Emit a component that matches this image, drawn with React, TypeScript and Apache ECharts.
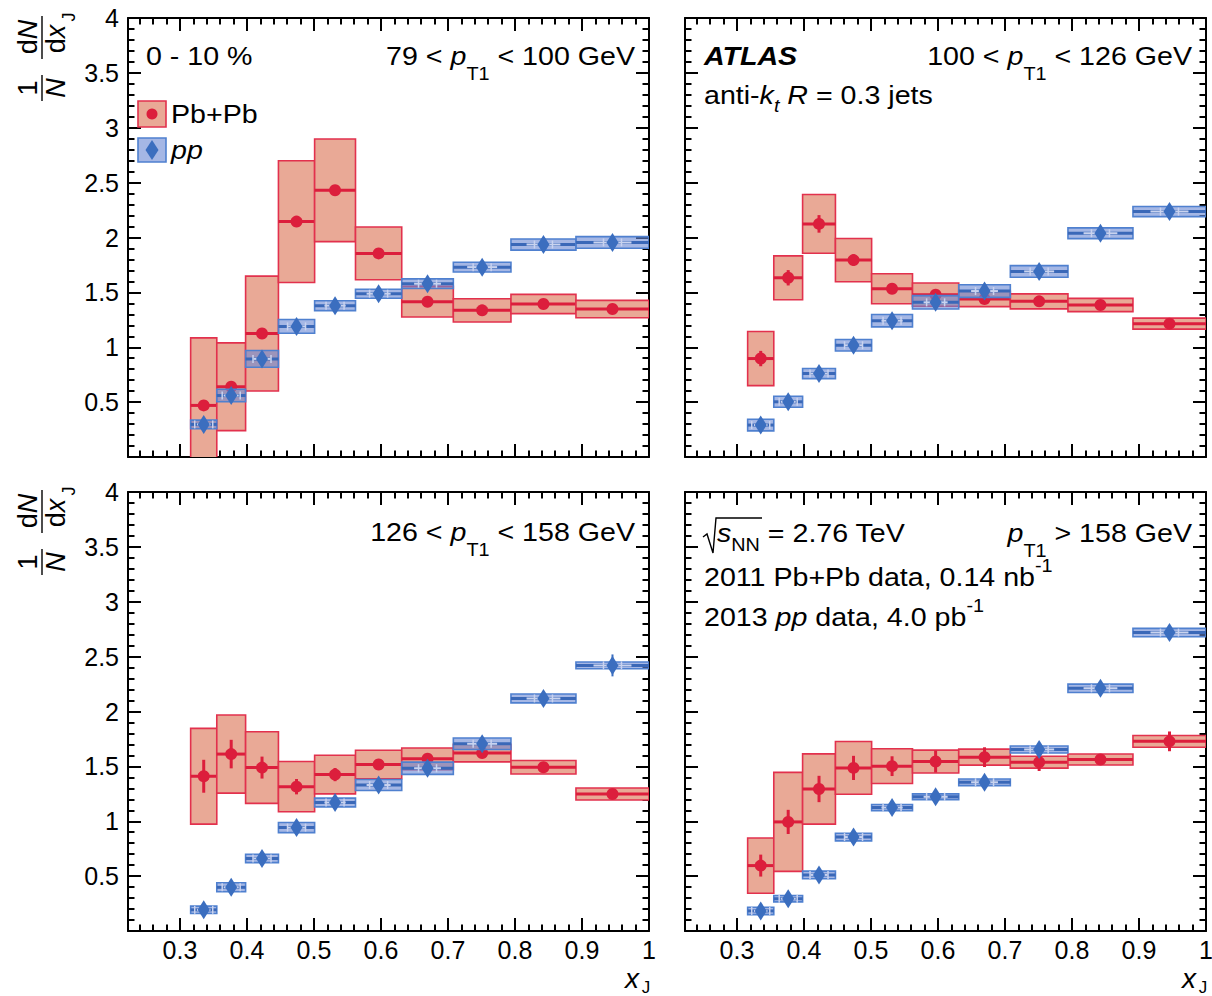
import React, { useEffect, useRef } from 'react';
import * as echarts from 'echarts';

// ---------- axis ranges / ticks ----------
const X_MIN = 0.2225;
const X_MAX = 1.0;
const Y_MIN = 0;
const Y_MAX = 4;
const xEdges = [0.316, 0.355, 0.398, 0.447, 0.501, 0.562, 0.631, 0.708, 0.794, 0.891, 1.0];
const xMajorTicks = [0.3, 0.4, 0.5, 0.6, 0.7, 0.8, 0.9, 1];
const xMinorTicks = [
  0.24, 0.26, 0.28, 0.32, 0.34, 0.36, 0.38, 0.42, 0.44, 0.46, 0.48, 0.52, 0.54, 0.56, 0.58,
  0.62, 0.64, 0.66, 0.68, 0.72, 0.74, 0.76, 0.78, 0.82, 0.84, 0.86, 0.88, 0.92, 0.94, 0.96, 0.98,
];

// ---------- panel A: 79 < pT1 < 100 GeV ----------
const pbpbA = [0.47, 0.64, 1.125, 2.145, 2.43, 1.855, 1.415, 1.336, 1.394, 1.348];
const pbpbSysA = [0.615, 0.4, 0.523, 0.555, 0.468, 0.24, 0.14, 0.106, 0.088, 0.079];
const pbpbStatA = [0.03, 0.03, 0.03, 0.03, 0.03, 0.02, 0.02, 0.02, 0.02, 0.02];
const ppA = [0.297, 0.56, 0.894, 1.19, 1.379, 1.488, 1.579, 1.73, 1.936, 1.955];
const ppSysA = [0.039, 0.057, 0.076, 0.063, 0.045, 0.041, 0.044, 0.045, 0.051, 0.053];
const ppStatA = [0.03, 0.03, 0.03, 0.03, 0.02, 0.02, 0.02, 0.02, 0.02, 0.02];

// ---------- panel B: 100 < pT1 < 126 GeV ----------
const pbpbB = [0.897, 1.633, 2.124, 1.794, 1.533, 1.479, 1.44, 1.418, 1.385, 1.215];
const pbpbSysB = [0.247, 0.2, 0.268, 0.197, 0.137, 0.106, 0.07, 0.068, 0.06, 0.05];
const pbpbStatB = [0.07, 0.07, 0.08, 0.05, 0.03, 0.03, 0.02, 0.02, 0.02, 0.02];
const ppB = [0.291, 0.503, 0.76, 1.018, 1.242, 1.409, 1.512, 1.691, 2.039, 2.236];
const ppSysB = [0.053, 0.05, 0.046, 0.052, 0.056, 0.061, 0.058, 0.053, 0.049, 0.046];
const ppStatB = [0.03, 0.03, 0.03, 0.03, 0.02, 0.02, 0.02, 0.02, 0.02, 0.02];

// ---------- panel C: 126 < pT1 < 158 GeV ----------
const pbpbC = [1.41, 1.612, 1.489, 1.315, 1.425, 1.517, 1.569, 1.621, 1.492, 1.248];
const pbpbSysC = [0.436, 0.356, 0.326, 0.229, 0.176, 0.13, 0.099, 0.08, 0.061, 0.055];
const pbpbStatC = [0.15, 0.13, 0.1, 0.07, 0.06, 0.05, 0.04, 0.03, 0.03, 0.02];
const ppC = [0.193, 0.398, 0.661, 0.942, 1.171, 1.33, 1.483, 1.706, 2.119, 2.42];
const ppSysC = [0.034, 0.041, 0.038, 0.046, 0.04, 0.05, 0.056, 0.052, 0.04, 0.031];
const ppStatC = [0.02, 0.02, 0.02, 0.02, 0.02, 0.02, 0.03, 0.03, 0.03, 0.1];

// ---------- panel D: pT1 > 158 GeV ----------
const pbpbD = [0.596, 0.994, 1.294, 1.486, 1.502, 1.544, 1.584, 1.538, 1.563, 1.728];
const pbpbSysD = [0.252, 0.451, 0.32, 0.24, 0.158, 0.104, 0.073, 0.054, 0.05, 0.054];
const pbpbStatD = [0.1, 0.11, 0.12, 0.11, 0.09, 0.1, 0.09, 0.08, 0.05, 0.09];
const ppD = [0.183, 0.294, 0.511, 0.856, 1.125, 1.223, 1.355, 1.654, 2.211, 2.719];
const ppSysD = [0.034, 0.029, 0.035, 0.035, 0.028, 0.026, 0.03, 0.032, 0.038, 0.038];
const ppStatD = [0.02, 0.02, 0.02, 0.02, 0.02, 0.02, 0.02, 0.02, 0.02, 0.03];

// ---------- style ----------
const FONT = "'Liberation Sans', Arial, Helvetica, sans-serif";
const RED = '#dc1e3c';
const RED_EDGE = '#e2314d';
const RED_FILL = '#e9a996';
const BLUE = '#3b6ebf';
const BLUE_DARK = '#3a68b8';
const BLUE_EDGE = '#4f80cf';
const BLUE_FILL = 'rgba(105,135,212,0.6)';
const BLUE_LIGHT = '#c9d3ef';
const SX = 1.1;
const FS = 26;

const GRIDS = [
  { left: 128, top: 18, width: 521, height: 439 },
  { left: 685, top: 18, width: 521, height: 439 },
  { left: 128, top: 492, width: 521, height: 439 },
  { left: 685, top: 492, width: 521, height: 439 },
];

const panels = [
  { pb: pbpbA, pbSys: pbpbSysA, pbStat: pbpbStatA, pp: ppA, ppSys: ppSysA, ppStat: ppStatA },
  { pb: pbpbB, pbSys: pbpbSysB, pbStat: pbpbStatB, pp: ppB, ppSys: ppSysB, ppStat: ppStatB },
  { pb: pbpbC, pbSys: pbpbSysC, pbStat: pbpbStatC, pp: ppC, ppSys: ppSysC, ppStat: ppStatC },
  { pb: pbpbD, pbSys: pbpbSysD, pbStat: pbpbStatD, pp: ppD, ppSys: ppSysD, ppStat: ppStatD },
];

const redItem = (_p: any, api: any) => {
  const lo = api.value(0), hi = api.value(1), v = api.value(2), s = api.value(3), st = api.value(4);
  const a = api.coord([lo, v + s]);
  const b = api.coord([hi, v - s]);
  const c = api.coord([lo, v]);
  const d = api.coord([hi, v]);
  const cx = (c[0] + d[0]) / 2;
  const e1 = api.coord([lo, v + st])[1];
  const e2 = api.coord([lo, v - st])[1];
  return {
    type: 'group',
    children: [
      { type: 'rect', shape: { x: a[0], y: a[1], width: b[0] - a[0], height: b[1] - a[1] }, style: { fill: RED_FILL, stroke: RED_EDGE, lineWidth: 1.6 } },
      { type: 'line', shape: { x1: c[0], y1: c[1], x2: d[0], y2: d[1] }, style: { stroke: RED, lineWidth: 3 } },
      { type: 'line', shape: { x1: cx, y1: e1, x2: cx, y2: e2 }, style: { stroke: RED, lineWidth: 3 } },
    ],
  };
};

const blueItem = (_p: any, api: any) => {
  const lo = api.value(0), hi = api.value(1), v = api.value(2), s = api.value(3), st = api.value(4);
  const a = api.coord([lo, v + s]);
  const b = api.coord([hi, v - s]);
  const c = api.coord([lo, v]);
  const d = api.coord([hi, v]);
  const w = d[0] - c[0];
  const cx = (c[0] + d[0]) / 2;
  const e1 = api.coord([lo, v + st])[1];
  const e2 = api.coord([lo, v - st])[1];
  return {
    type: 'group',
    children: [
      { type: 'rect', shape: { x: a[0], y: a[1], width: b[0] - a[0], height: b[1] - a[1] }, style: { fill: BLUE_FILL, stroke: BLUE_EDGE, lineWidth: 1.6 } },
      { type: 'line', shape: { x1: c[0], y1: c[1], x2: d[0], y2: d[1] }, style: { stroke: BLUE_DARK, lineWidth: 3 } },
      { type: 'line', shape: { x1: cx - w * 0.26, y1: c[1], x2: cx + w * 0.26, y2: c[1] }, style: { stroke: BLUE_LIGHT, lineWidth: 2 } },
      { type: 'line', shape: { x1: cx - 9, y1: c[1] - 4, x2: cx - 9, y2: c[1] + 4 }, style: { stroke: BLUE_LIGHT, lineWidth: 1.5 } },
      { type: 'line', shape: { x1: cx + 9, y1: c[1] - 4, x2: cx + 9, y2: c[1] + 4 }, style: { stroke: BLUE_LIGHT, lineWidth: 1.5 } },
      { type: 'line', shape: { x1: cx, y1: e1, x2: cx, y2: e2 }, style: { stroke: BLUE, lineWidth: 2 } },
    ],
  };
};

const RICH: any = {
  n: { fontSize: FS, fontFamily: FONT, fill: '#000' },
  i: { fontSize: FS, fontFamily: FONT, fontStyle: 'italic', fill: '#000' },
  b: { fontSize: FS, fontFamily: FONT, fontStyle: 'italic', fontWeight: 'bold', fill: '#000' },
  s: { fontSize: 18, fontFamily: FONT, fill: '#000', padding: [36, 0, 0, 0] },
  s2: { fontSize: 18, fontFamily: FONT, fill: '#000', padding: [24, 0, 0, 0] },
  st: { fontSize: 18, fontFamily: FONT, fontStyle: 'italic', fill: '#000', padding: [22, 0, 0, 0] },
  sup: { fontSize: 18, fontFamily: FONT, fill: '#000', padding: [0, 0, 22, 0] },
  tn: { fontSize: 27, fontFamily: FONT, fill: '#000' },
  ti: { fontSize: 27, fontFamily: FONT, fontStyle: 'italic', fill: '#000' },
};

const label = (x: number, y: number, text: string, align: string, scale = SX) => ({
  type: 'text',
  x,
  y,
  scaleX: scale,
  z: 100,
  style: { text, rich: RICH, align, verticalAlign: 'middle', fill: '#000', fontSize: FS, fontFamily: FONT },
});

const rotText = (x: number, y: number, text: string, size = 27, italic = false) => ({
  type: 'text',
  x,
  y,
  rotation: Math.PI / 2,
  z: 100,
  style: { text, rich: RICH, align: 'center', verticalAlign: 'middle', fill: '#000', fontSize: size, fontFamily: FONT, fontStyle: italic ? 'italic' : 'normal' },
});

const yTitle = (dy: number) => [
  rotText(28, 88 + dy, '1'),
  rotText(56, 88 + dy, 'N', 27, true),
  { type: 'line', z: 100, shape: { x1: 42, y1: 75 + dy, x2: 42, y2: 101 + dy }, style: { stroke: '#000', lineWidth: 1.4 } },
  rotText(28, 37 + dy, '{tn|d}{ti|N}'),
  rotText(56, 39 + dy, '{tn|d}{ti|x}'),
  rotText(69, 17 + dy, 'J', 18),
  { type: 'line', z: 100, shape: { x1: 42, y1: 16 + dy, x2: 42, y2: 59 + dy }, style: { stroke: '#000', lineWidth: 1.4 } },
];

const xTitle = (x: number, y: number) => [
  { type: 'text', x, y, z: 100, style: { text: 'x', align: 'center', verticalAlign: 'middle', fill: '#000', fontSize: 28, fontStyle: 'italic', fontFamily: FONT } },
  { type: 'text', x: x + 14, y: y + 9, z: 100, style: { text: 'J', align: 'center', verticalAlign: 'middle', fill: '#000', fontSize: 17, fontFamily: FONT } },
];

function buildOption() {
  const tickLine = { color: '#000', width: 2 };
  const xAxis: any[] = [];
  const yAxis: any[] = [];
  const series: any[] = [];
  GRIDS.forEach((_g, i) => {
    const bottomRow = i >= 2;
    const leftCol = i % 2 === 0;
    const base = { type: 'value', gridIndex: i, min: X_MIN, max: X_MAX, splitLine: { show: false } };
    const line = { show: true, onZero: false, lineStyle: { color: '#000', width: 2 } };
    const noLine = { show: false, onZero: false };
    const majorTick = { show: true, inside: true, length: 13, customValues: xMajorTicks, lineStyle: tickLine };
    const minorTick = { show: true, inside: true, length: 6.5, customValues: xMinorTicks, lineStyle: tickLine };
    xAxis.push({
      ...base,
      position: 'bottom',
      axisLine: line,
      axisTick: majorTick,
      axisLabel: { show: bottomRow, customValues: xMajorTicks, color: '#000', fontSize: 25, fontFamily: FONT, margin: 6 },
    });
    xAxis.push({ ...base, position: 'bottom', axisLine: noLine, axisTick: minorTick, axisLabel: { show: false } });
    xAxis.push({ ...base, position: 'top', axisLine: line, axisTick: majorTick, axisLabel: { show: false } });
    xAxis.push({ ...base, position: 'top', axisLine: noLine, axisTick: minorTick, axisLabel: { show: false } });

    const ybase = {
      type: 'value',
      gridIndex: i,
      min: Y_MIN,
      max: Y_MAX,
      interval: 0.5,
      splitLine: { show: false },
      axisLine: line,
      axisTick: { show: true, inside: true, length: 13, lineStyle: tickLine },
      minorTick: { show: true, splitNumber: 5, length: 6.5, lineStyle: tickLine },
    };
    yAxis.push({
      ...ybase,
      position: 'left',
      axisLabel: { show: leftCol, showMinLabel: false, color: '#000', fontSize: 25, fontFamily: FONT, margin: 9 },
    });
    yAxis.push({ ...ybase, position: 'right', axisLabel: { show: false } });

    const p = panels[i];
    const redData = p.pb.map((v, k) => [xEdges[k], xEdges[k + 1], v, p.pbSys[k], p.pbStat[k]]);
    const blueData = p.pp.map((v, k) => [xEdges[k], xEdges[k + 1], v, p.ppSys[k], p.ppStat[k]]);
    const centers = p.pb.map((_v, k) => (xEdges[k] + xEdges[k + 1]) / 2);
    series.push({
      type: 'custom', name: 'Pb+Pb', xAxisIndex: i * 4, yAxisIndex: i * 2, clip: true, z: 2,
      renderItem: redItem, encode: { x: [0, 1], y: [2] }, data: redData,
    });
    series.push({
      type: 'scatter', name: 'Pb+Pb', xAxisIndex: i * 4, yAxisIndex: i * 2, z: 3,
      symbol: 'circle', symbolSize: 12, itemStyle: { color: RED, opacity: 1 },
      data: p.pb.map((v, k) => [centers[k], v]),
    });
    series.push({
      type: 'custom', name: 'pp', xAxisIndex: i * 4, yAxisIndex: i * 2, clip: true, z: 4,
      renderItem: blueItem, encode: { x: [0, 1], y: [2] }, data: blueData,
    });
    series.push({
      type: 'scatter', name: 'pp', xAxisIndex: i * 4, yAxisIndex: i * 2, z: 5,
      symbol: 'diamond', symbolSize: [12, 19], itemStyle: { color: BLUE, opacity: 1 },
      data: p.pp.map((v, k) => [centers[k], v]),
    });
  });

  const graphic: any[] = [
    // legend
    { type: 'rect', z: 100, shape: { x: 138, y: 101, width: 28, height: 26 }, style: { fill: RED_FILL, stroke: RED_EDGE, lineWidth: 1.6 } },
    { type: 'circle', z: 101, shape: { cx: 152, cy: 114, r: 5.5 }, style: { fill: RED } },
    label(171, 114, '{n|Pb+Pb}', 'left'),
    { type: 'rect', z: 100, shape: { x: 138, y: 138, width: 28, height: 24 }, style: { fill: BLUE_FILL, stroke: BLUE_EDGE, lineWidth: 1.6 } },
    { type: 'polygon', z: 101, shape: { points: [[152, 140], [158.5, 150], [152, 160], [145.5, 150]] }, style: { fill: BLUE } },
    label(171, 150, '{i|pp}', 'left'),
    // panel texts
    label(146, 56, '{n|0 - 10 %}', 'left'),
    label(635, 56, '{n|79 < }{i|p}{s|T1}{n| < 100 GeV}', 'right'),
    label(704, 56, '{b|ATLAS}', 'left'),
    label(1192, 56, '{n|100 < }{i|p}{s|T1}{n| < 126 GeV}', 'right'),
    label(704, 95, '{n|anti-}{i|k}{st|t}{n| }{i|R}{n| = 0.3 jets}', 'left'),
    label(635, 532, '{n|126 < }{i|p}{s|T1}{n| < 158 GeV}', 'right'),
    { type: 'polyline', z: 100, shape: { points: [[703, 537], [707, 534], [713, 553], [716, 518], [762, 518]] }, style: { stroke: '#000', lineWidth: 1.4, fill: null } },
    label(717, 533, '{i|s}{s2|NN}{n| = 2.76 TeV}', 'left'),
    label(1192, 533, '{i|p}{s|T1}{n| > 158 GeV}', 'right'),
    label(704, 577, '{n|2011 Pb+Pb data, 0.14 nb}{sup|-1}', 'left'),
    label(704, 617, '{n|2013 }{i|pp}{n| data, 4.0 pb}{sup|-1}', 'left'),
    ...yTitle(0),
    ...yTitle(474),
    ...xTitle(632, 978),
    ...xTitle(1189, 978),
  ];

  return {
    animation: false,
    backgroundColor: '#fff',
    grid: GRIDS.map((g) => ({ ...g, containLabel: false, outerBoundsMode: 'none' })),
    xAxis,
    yAxis,
    series,
    graphic,
  };
}

export default function App() {
  const ref = useRef<HTMLDivElement>(null);
  useEffect(() => {
    if (!ref.current) return;
    const chart = echarts.init(ref.current, null, { renderer: 'svg' });
    chart.setOption(buildOption() as any);
    return () => chart.dispose();
  }, []);
  return (
    <div
      ref={ref}
      style={{ position: 'absolute', left: 0, top: 0, width: 1212, height: 996, background: '#fff' }}
    />
  );
}
